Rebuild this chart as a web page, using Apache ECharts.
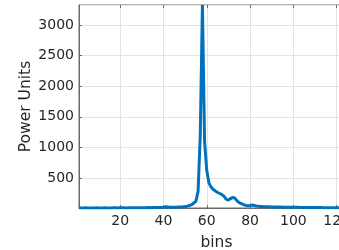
<!DOCTYPE html>
<html>
<head>
<meta charset="utf-8">
<script src="https://cdn.jsdelivr.net/npm/echarts@6/dist/echarts.min.js"></script>
<style>
  html, body { margin: 0; padding: 0; background: #fff; }
  #chart { width: 339px; height: 250px; }
</style>
</head>
<body>
<div id="chart"></div>
<script>
// power per bin, bins 1..128
const power = [
  12, 10, 9, 11, 10, 8, 9, 10, 11, 10,
  9, 10, 11, 10, 9, 10, 12, 11, 10, 11,
  12, 11, 10, 12, 13, 12, 11, 12, 13, 14,
  13, 14, 15, 14, 16, 15, 17, 16, 18, 22,
  28, 24, 20, 19, 21, 22, 24, 26, 28, 32,
  38, 48, 62, 90, 120, 280, 1200, 3330, 1100, 620,
  420, 350, 310, 285, 262, 245, 228, 198, 150, 140,
  162, 182, 168, 125, 95, 78, 62, 50, 45, 48,
  56, 50, 41, 36, 33, 31, 30, 28, 27, 26,
  25, 24, 24, 23, 22, 22, 21, 21, 20, 20,
  19, 19, 18, 18, 17, 17, 17, 16, 16, 16,
  15, 15, 15, 14, 14, 14, 13, 13, 13, 12,
  12, 12, 12, 11, 11, 11, 10, 10
]
const bins = power.map((_, i) => i + 1)

const axisColor = '#6b6b6b'
const textColor = '#262626'
const font = 'DejaVu Sans'

const chart = echarts.init(document.getElementById('chart'))
chart.setOption({
  animation: false,
  grid: {
    left: 79, width: 275, top: 5, bottom: 42,
    outerBoundsMode: 'none',
    containLabel: false,
    show: true, borderColor: axisColor, borderWidth: 1, backgroundColor: 'transparent'
  },
  xAxis: [{
    type: 'value',
    min: 1,
    max: bins.length,
    splitNumber: 6,
    name: 'bins',
    nameLocation: 'middle',
    nameGap: 27,
    nameMoveOverlap: false,
    nameTextStyle: { color: textColor, fontFamily: font, fontSize: 15.5 },
    axisLine: { show: true, lineStyle: { color: axisColor, width: 1 } },
    axisTick: { show: true, inside: true, length: 3, lineStyle: { color: axisColor } },
    axisLabel: {
      color: textColor, fontFamily: font, fontSize: 14, margin: 6,
      showMinLabel: false, showMaxLabel: false,
      formatter: (v) => (v % 20 === 0 ? String(v) : '')
    },
    splitLine: { show: true, lineStyle: { color: '#e3e3e3', width: 1 } }
  }, {
    type: 'value',
    position: 'top',
    min: 1,
    max: bins.length,
    splitNumber: 6,
    axisLine: { show: false },
    axisTick: { show: true, inside: true, length: 3, lineStyle: { color: axisColor } },
    axisLabel: { show: false },
    splitLine: { show: false }
  }],
  yAxis: {
    type: 'value',
    min: Math.min(...power),
    max: Math.max(...power),
    splitNumber: 5,
    name: 'Power Units',
    nameLocation: 'middle',
    nameGap: 45,
    nameMoveOverlap: false,
    nameTextStyle: { color: textColor, fontFamily: font, fontSize: 15.5 },
    axisLine: { show: true, lineStyle: { color: axisColor, width: 1 } },
    axisTick: { show: true, inside: true, length: 3, lineStyle: { color: axisColor } },
    axisLabel: {
      color: textColor, fontFamily: font, fontSize: 14, margin: 5,
      showMinLabel: false, showMaxLabel: false,
      formatter: (v) => (v % 500 === 0 ? String(v) : '')
    },
    splitLine: { show: true, lineStyle: { color: '#e3e3e3', width: 1 } }
  },
  series: [{
    type: 'line',
    xAxisIndex: 0,
    data: bins.map((b, i) => [b, power[i]]),
    showSymbol: false,
    smooth: false,
    lineStyle: { color: '#0072BD', width: 3 },
    clip: true
  }]
})
</script>
</body>
</html>
